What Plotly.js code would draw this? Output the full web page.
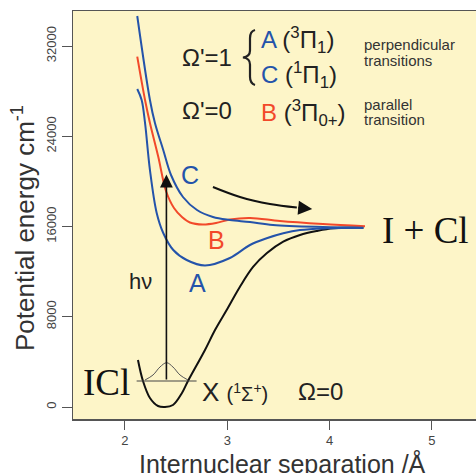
<!DOCTYPE html>
<html><head><meta charset="utf-8">
<script src="https://cdn.plot.ly/plotly-3.0.1.min.js"></script>
<style>html,body{margin:0;padding:0;background:#fff;}#chart{width:476px;height:473px;}</style>
</head><body><div id="chart"></div>
<script>
// Ground state X (1Σ+)
const xX = [2.127, 2.176, 2.244, 2.323, 2.391, 2.469, 2.557, 2.616, 2.782, 2.880, 2.994, 3.124, 3.254, 3.385, 3.547, 3.711, 3.874, 4.036, 4.330];
const yX = [4167, 2305, 798, 89, 0, 177, 1241, 2305, 5053, 6826, 8599, 10665, 12437, 13626, 14654, 15248, 15602, 15842, 15900];
// A (3Π1)
const xA = [2.120, 2.163, 2.196, 2.244, 2.310, 2.374, 2.472, 2.603, 2.782, 3.026, 3.222, 3.385, 3.547, 3.711, 3.972, 4.330];
const yA = [28191, 27216, 25177, 21010, 17198, 15425, 13918, 13032, 12544, 13209, 14361, 14955, 15399, 15691, 15842, 15900];
// B (3Π0+)
const xB = [2.120, 2.196, 2.244, 2.326, 2.401, 2.479, 2.557, 2.635, 2.762, 2.890, 3.026, 3.222, 3.515, 3.935, 4.346];
const yB = [31054, 27216, 25177, 22163, 19148, 17641, 16843, 16356, 16179, 16312, 16622, 16755, 16489, 16223, 16020];
// C (1Π1)
const xC = [2.120, 2.244, 2.293, 2.374, 2.450, 2.567, 2.704, 2.860, 3.026, 3.222, 3.447, 3.935, 4.330];
const yC = [34662, 27216, 25177, 22783, 20567, 18617, 17464, 16843, 16578, 16400, 16134, 15957, 15900];
// v=0 level and wavefunction
const xLevel = [2.114, 2.700];
const yLevel = [2305, 2305];
const xWave = [2.196, 2.274, 2.342, 2.407, 2.469, 2.538, 2.616];
const yWave = [2393, 2837, 3546, 3927, 3546, 2837, 2393];
// dissociation arrow path
const xDiss = [2.860, 3.124, 3.417, 3.680];
const yDiss = [19503, 18617, 17996, 17680];
// photon arrow (hν)
const xPhoton = [2.405, 2.405];
const yPhoton = [2305, 20600];

const yTicks = [0, 8000, 16000, 24000, 32000];
const yTickText = ['0', '8000', '16000', '24000', '32000'];
const xTicks = [2, 3, 4, 5];

const BLUE = '#2453aa', RED = '#f2492a', BLACK = '#111111', GREY = '#333333';

const traces = [
  {x: xX, y: yX, mode: 'lines', line: {color: BLACK, width: 2, shape: 'spline', smoothing: 1}},
  {x: xA, y: yA, mode: 'lines', line: {color: BLUE, width: 2, shape: 'spline', smoothing: 1}},
  {x: xB, y: yB, mode: 'lines', line: {color: RED, width: 2, shape: 'spline', smoothing: 1}},
  {x: xC, y: yC, mode: 'lines', line: {color: BLUE, width: 2, shape: 'spline', smoothing: 1}},
  {x: xLevel, y: yLevel, mode: 'lines', line: {color: '#444', width: 1}},
  {x: xWave, y: yWave, mode: 'lines', line: {color: '#555', width: 1, shape: 'spline', smoothing: 1}},
  {x: xDiss, y: yDiss, mode: 'lines', line: {color: BLACK, width: 2, shape: 'spline', smoothing: 1}}
];
traces.forEach(t => { t.hoverinfo = 'skip'; t.showlegend = false; });

const sans = 'Arial, Liberation Sans, sans-serif';
const serif = 'Liberation Serif, Times New Roman, serif';
function txt(x, y, text, size, color, opts) {
  return Object.assign({x: x, y: y, xref: 'x', yref: 'y', text: text, showarrow: false,
    font: {family: sans, size: size, color: color}, xanchor: 'left', yanchor: 'middle', align: 'left'}, opts || {});
}

const annotations = [
  // photon arrow
  {x: xPhoton[1], y: yPhoton[1], ax: xPhoton[0], ay: yPhoton[0], xref: 'x', yref: 'y', axref: 'x', ayref: 'y',
   text: '', showarrow: true, arrowhead: 2, arrowsize: 1.6, arrowwidth: 1.6, arrowcolor: BLACK, standoff: 0},
  // dissociation arrowhead
  {x: 3.83, y: 17553, ax: xDiss[3], ay: yDiss[3], xref: 'x', yref: 'y', axref: 'x', ayref: 'y',
   text: '', showarrow: true, arrowhead: 2, arrowsize: 1.4, arrowwidth: 2, arrowcolor: BLACK, standoff: 0},
  txt(2.54, 30940, "Ω'=1", 24, '#222'),
  txt(2.54, 26329, "Ω'=0", 24, '#222'),
  txt(3.31, 32535, '<span style="color:' + BLUE + '">A</span> (<sup>3</sup>Π<sub>1</sub>)', 24, '#222'),
  txt(3.31, 29432, '<span style="color:' + BLUE + '">C</span> (<sup>1</sup>Π<sub>1</sub>)', 24, '#222'),
  txt(3.31, 26063, '<span style="color:' + RED + '">B</span> (<sup>3</sup>Π<sub>0+</sub>)', 24, '#222'),
  txt(4.32, 32180, 'perpendicular', 15, GREY),
  txt(4.32, 30673, 'transitions', 15, GREY),
  txt(4.32, 26861, 'parallel', 15, GREY),
  txt(4.32, 25531, 'transition', 15, GREY),
  txt(4.49, 15691, 'I + Cl', 37, BLACK, {font: {family: serif, size: 37, color: BLACK}}),
  txt(1.575, 2128, 'ICl', 37, BLACK, {font: {family: serif, size: 37, color: BLACK}}),
  txt(2.733, 1330, 'X <span style="font-size:20px">(<sup>1</sup>Σ<sup>+</sup>)</span>', 26, '#222'),
  txt(3.672, 1418, 'Ω=0', 24, '#222'),
  txt(2.635, 20567, 'C', 25, BLUE, {xanchor: 'center'}),
  txt(2.899, 14805, 'B', 25, RED, {xanchor: 'center'}),
  txt(2.704, 10993, 'A', 25, BLUE, {xanchor: 'center'}),
  txt(2.147, 11170, 'hν', 22, '#222', {xanchor: 'center'}),
  // axis titles
  {x: 0.5, y: 0, xref: 'paper', yref: 'paper', text: 'Internuclear separation /Å', showarrow: false,
   font: {family: sans, size: 25, color: GREY}, xanchor: 'center', yanchor: 'middle', xshift: 8, yshift: -44},
  {x: 0, y: 0.5, xref: 'paper', yref: 'paper', text: 'Potential energy cm<sup>-1</sup>', showarrow: false, textangle: -90,
   font: {family: sans, size: 26, color: GREY}, xanchor: 'center', yanchor: 'middle', xshift: -50, yshift: -13}
];

const shapes = [
  {type: 'path', xref: 'x', yref: 'y',
   path: 'M 3.271 33421 Q 3.222 33300 3.222 32700 L 3.222 31600 Q 3.222 31050 3.153 30983 Q 3.222 30916 3.222 30366 L 3.222 29266 Q 3.222 28666 3.271 28545',
   line: {color: '#222', width: 2.2}}
];

const layout = {
  width: 476, height: 473,
  margin: {l: 73, r: 0, t: 11, b: 54},
  paper_bgcolor: '#ffffff', plot_bgcolor: '#fdf5c8',
  showlegend: false,
  xaxis: {range: [1.492, 5.431], tickvals: xTicks, ticks: 'outside', ticklen: 9, tickcolor: '#555',
    showgrid: false, zeroline: false, showline: true, linecolor: '#555', linewidth: 1.5, mirror: true,
    tickfont: {family: sans, size: 13, color: '#444'}},
  yaxis: {range: [-1064, 35105], tickvals: yTicks, ticktext: yTickText, ticks: 'outside', ticklen: 10, tickcolor: '#555',
    tickangle: -90, showgrid: false, zeroline: false, showline: true, linecolor: '#555', linewidth: 1.5, mirror: true,
    tickfont: {family: sans, size: 13, color: '#444'}},
  annotations: annotations,
  shapes: shapes
};

Plotly.newPlot('chart', traces, layout, {staticPlot: true, displayModeBar: false});
</script>
</body></html>
